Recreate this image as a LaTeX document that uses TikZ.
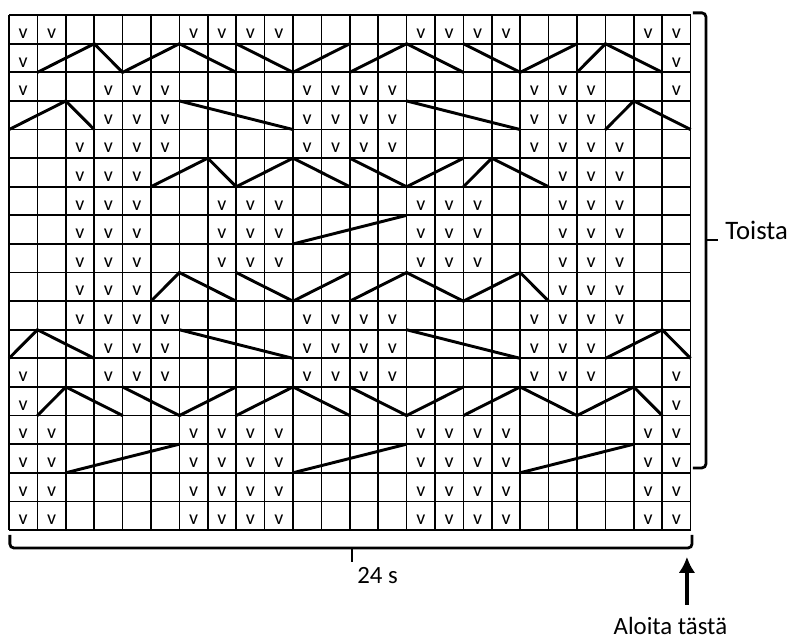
\documentclass[tikz,border=0pt]{standalone}
\usepackage{fontspec}
\setmainfont{Carlito}
\usetikzlibrary{positioning,arrows.meta}

\begin{document}
\begin{tikzpicture}[x=21.3pt,y=21.45pt,
    gridline/.style={line width=1.3pt},
    cable/.style={line width=2.2pt},
    bracket/.style={line width=2.1pt,rounded corners=3pt},
    stitch/.style={inner sep=0pt,yshift=-3.2pt,font=\fontsize{15}{16}\selectfont},
    chartlabel/.style={inner sep=0pt,font=\fontsize{18.6}{22}\selectfont}]
  \useasboundingbox (-0.317,-3.88) rectangle (27.57,18.53);
  \foreach \c in {0,...,24}
    \draw[gridline] (\c,0) -- (\c,18);
  \foreach \k in {0,...,18}
    \draw[gridline] (0,\k) -- (24,\k);
  \foreach \k/\cols in {1/{1,2,7,8,9,10,15,16,17,18,23,24},
                        2/{1,2,7,8,9,10,15,16,17,18,23,24},
                        3/{1,2,7,8,9,10,15,16,17,18,23,24},
                        4/{1,2,7,8,9,10,15,16,17,18,23,24},
                        5/{1,24},
                        6/{1,4,5,6,11,12,13,14,19,20,21,24},
                        7/{4,5,6,11,12,13,14,19,20,21},
                        8/{3,4,5,6,11,12,13,14,19,20,21,22},
                        9/{3,4,5,20,21,22},
                        10/{3,4,5,8,9,10,15,16,17,20,21,22},
                        11/{3,4,5,8,9,10,15,16,17,20,21,22},
                        12/{3,4,5,8,9,10,15,16,17,20,21,22},
                        13/{3,4,5,20,21,22},
                        14/{3,4,5,6,11,12,13,14,19,20,21,22},
                        15/{4,5,6,11,12,13,14,19,20,21},
                        16/{1,4,5,6,11,12,13,14,19,20,21,24},
                        17/{1,24},
                        18/{1,2,7,8,9,10,15,16,17,18,23,24}}
    \foreach \c in \cols
      \node[stitch] (v\k-\c) at (\c-0.5,\k-0.5) {v};
  \draw[cable] (2,2)--(6,3) (10,2)--(14,3) (18,2)--(22,3);
  \draw[cable] (1,4)--(2,5)--(4,4) (4,5)--(6,4)--(8,5) (8,4)--(10,5)--(12,4)
               (12,5)--(14,4)--(16,5) (16,4)--(18,5)--(20,4)--(22,5)--(23,4);
  \draw[cable] (0,6)--(1,7)--(3,6) (6,7)--(10,6) (14,7)--(18,6) (21,6)--(23,7)--(24,6);
  \draw[cable] (5,8)--(6,9)--(8,8) (8,9)--(10,8)--(12,9) (12,8)--(14,9)--(16,8)--(18,9)--(19,8);
  \draw[cable] (10,10)--(14,11);
  \draw[cable] (5,12)--(7,13)--(8,12)--(10,13)--(12,12) (12,13)--(14,12)--(16,13) (16,12)--(17,13)--(19,12);
  \draw[cable] (0,14)--(2,15)--(3,14) (6,15)--(10,14) (14,15)--(18,14) (21,14)--(22,15)--(24,14);
  \draw[cable] (1,16)--(3,17)--(4,16)--(6,17)--(8,16) (8,17)--(10,16)--(12,17)
               (12,16)--(14,17)--(16,16) (16,17)--(18,16)--(20,17) (20,16)--(21,17)--(23,16);
  \draw[bracket] (24.08,18.08) -- (24.54,18.08) -- (24.54,2.17) -- (24.08,2.17);
  \coordinate (toistatip) at (24.96,10.14);
  \draw[bracket] (24.54,10.14) -- (toistatip);
  \node[chartlabel,font=\fontsize{20}{24}\selectfont,right=5.5pt of toistatip,yshift=7.5pt] (toista) {Toista};
  \draw[bracket] (0.03,-0.175) -- (0.03,-0.63) -- (24.05,-0.63) -- (24.05,-0.175);
  \coordinate (repeattip) at (12.08,-1.12);
  \draw[bracket] (12.08,-0.63) -- (repeattip);
  \node[chartlabel,below right=3.7pt and 3.7pt of repeattip] (sts) {24 s};
  \coordinate (starttip) at (23.87,-0.94);
  \coordinate (starttail) at (23.87,-2.62);
  \draw[-{Latex[length=12pt,width=12.5pt]},line width=2.4pt] (starttail) -- (starttip);
  \node[chartlabel,below=9pt of starttail,xshift=-12.4pt] (aloita) {Aloita tästä};
\end{tikzpicture}
\end{document}
